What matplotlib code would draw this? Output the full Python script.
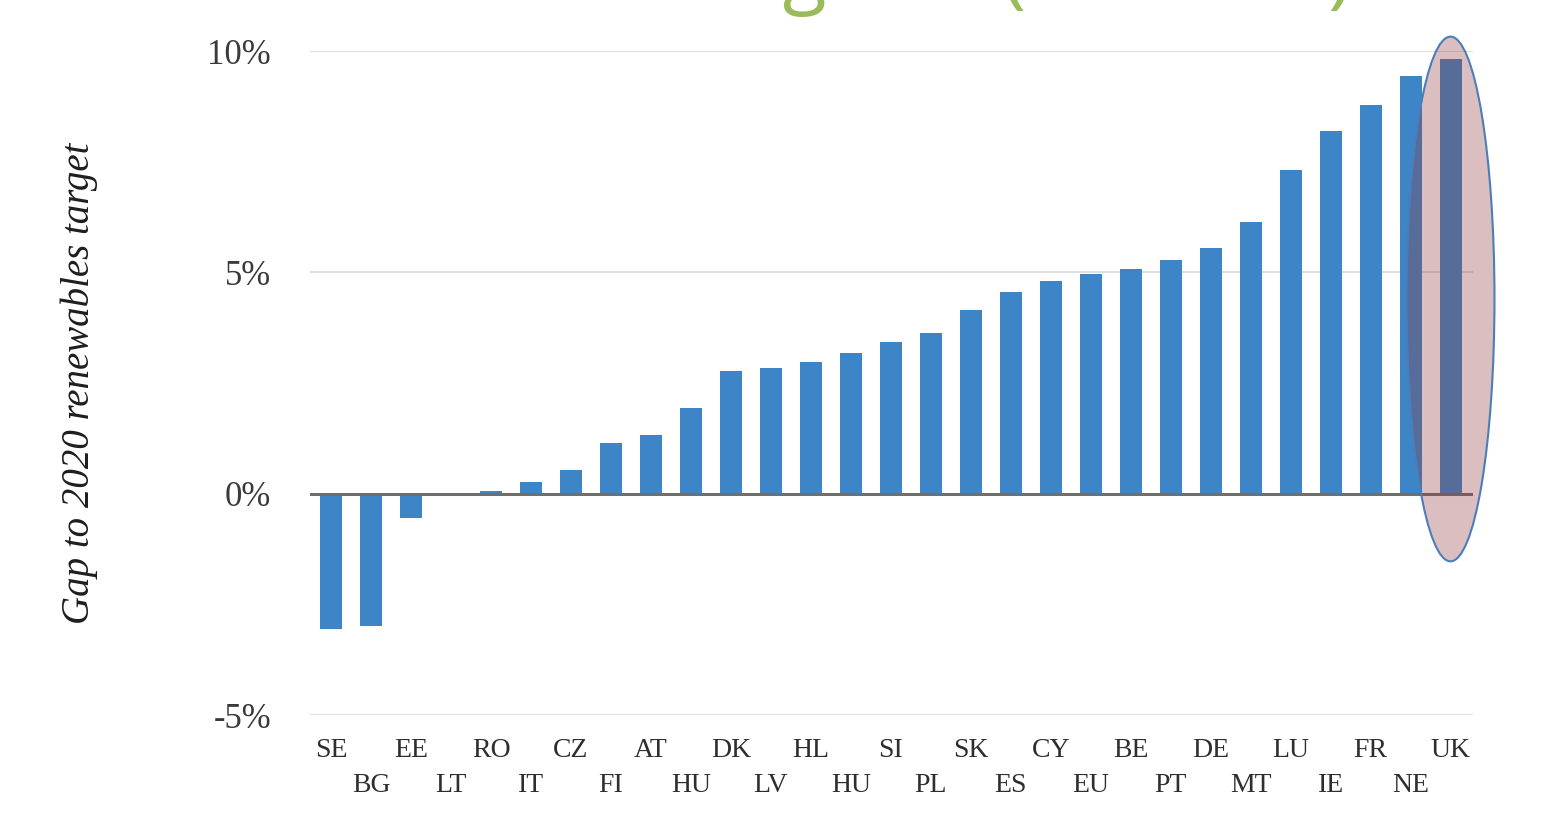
import matplotlib
matplotlib.use('Agg')
import matplotlib.pyplot as plt
from matplotlib.patches import Ellipse

# gap to 2020 renewables target, %
countries = ['SE', 'BG', 'EE', 'LT', 'RO', 'IT', 'CZ', 'FI', 'AT', 'HU',
             'DK', 'LV', 'HL', 'HU', 'SI', 'PL', 'SK', 'ES', 'CY', 'EU',
             'BE', 'PT', 'DE', 'MT', 'LU', 'IE', 'FR', 'NE', 'UK']
gaps = [-3.05, -2.98, -0.55, 0.02, 0.07, 0.27, 0.54, 1.15, 1.33, 1.94,
        2.78, 2.84, 2.98, 3.18, 3.43, 3.63, 4.15, 4.56, 4.81, 4.97,
        5.08, 5.28, 5.55, 6.14, 7.31, 8.19, 8.78, 9.44, 9.82]
y_ticks = [-5, 0, 5, 10]
y_tick_labels = ['-5%', '0%', '5%', '10%']
highlight = 'UK'

serif = ['Liberation Serif', 'DejaVu Serif']

fig = plt.figure(figsize=(15.5, 8.23), dpi=100)
ax = fig.add_axes([0.2, 0.131, 0.75, 0.807])

x = list(range(len(countries)))
ax.bar(x, gaps, width=0.55, color='#3d85c6', zorder=2)

# grid + zero line
for t in y_ticks:
    ax.axhline(t, color='#d9d9d9', linewidth=1.2, zorder=1)
ax.axhline(0, color='#6e6e6e', linewidth=2.2, zorder=3)

ax.set_xlim(-0.53, len(countries) - 0.45)
ax.set_ylim(-5, 10)
ax.set_yticks(y_ticks)
ax.set_yticklabels(y_tick_labels, fontfamily=serif, fontsize=25, color='#3a3a3a')
ax.tick_params(axis='y', length=0, pad=28)
ax.set_xticks([])
for s in ax.spines.values():
    s.set_visible(False)

# staggered country labels
for i, c in enumerate(countries):
    yy = -0.035 if i % 2 == 0 else -0.087
    ax.text(i, yy, c, transform=ax.get_xaxis_transform(), ha='center', va='top',
            fontfamily=serif, fontsize=20, color='#2e2e2e')

ax.set_ylabel('Gap to 2020 renewables target', fontfamily=serif, style='italic',
              fontsize=28, color='#1e1e1e', labelpad=79)

# highlight ellipse round the UK bar
ui = countries.index(highlight)
ell = Ellipse((ui, 4.4), width=2.2, height=11.85, facecolor='#923a3d', alpha=0.32,
              edgecolor='none', zorder=4, clip_on=False)
ax.add_patch(ell)
ell_edge = Ellipse((ui, 4.4), width=2.2, height=11.85, facecolor='none',
                   edgecolor='#4a7ebb', linewidth=1.5, zorder=5, clip_on=False)
ax.add_patch(ell_edge)

# slide title, cropped by the top of the image (only descenders show)
fig.text(0.421, 1.002, 'Progress (2014-15)', ha='left', va='baseline',
         fontfamily=['Open Sans', 'DejaVu Sans'], fontsize=58, color='#9bbb59')

plt.savefig('out.png', dpi=100)
plt.close()
